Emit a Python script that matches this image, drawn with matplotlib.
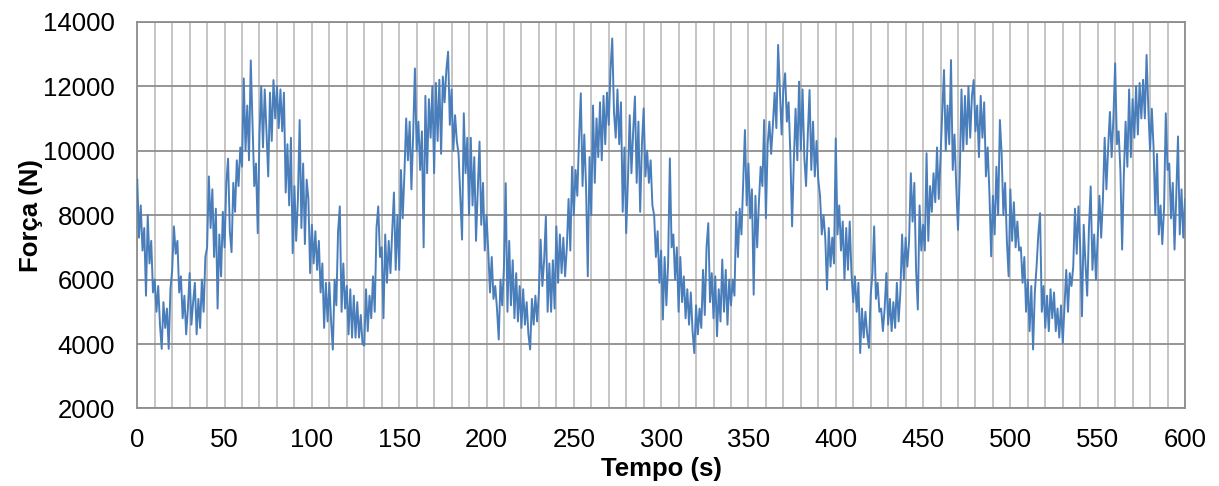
import matplotlib
matplotlib.use("Agg")
import matplotlib.pyplot as plt
import numpy as np
from matplotlib.ticker import MultipleLocator

# força (N), um valor por segundo (t = 0 ... 600 s)
forca = [
    9100, 7300, 8300, 6900, 7600, 5500, 8000, 6500, 7200, 5600,
    6000, 5000, 5800, 4600, 3850, 5300, 4500, 5100, 3850, 5700,
    6300, 7650, 6800, 7200, 5600, 6100, 4800, 5500, 4300, 5100,
    6200, 4600, 5300, 5900, 4300, 5400, 4500, 6000, 5000, 6700,
    7000, 9200, 7600, 8800, 6700, 8200, 5100, 7400, 6100, 8100,
    7000, 9000, 9750, 7500, 6850, 9000, 8100, 9700, 8900, 10100,
    9500, 12240, 10000, 11400, 9700, 12800, 10900, 8900, 9600, 7440,
    10500, 12000, 10100, 11900, 10600, 9200, 11800, 10300, 12190, 11000,
    12000, 10700, 11900, 10600, 11800, 8700, 10200, 8300, 10400, 6820,
    8900, 7200, 8500, 10950, 7600, 9600, 7100, 9100, 8500, 6200,
    7700, 6500, 7500, 6300, 7200, 5600, 6500, 4500, 5900, 4700,
    5900, 4700, 3830, 6000, 5200, 7500, 8270, 5000, 6500, 5100,
    5800, 4300, 5700, 4200, 5500, 4200, 5300, 4200, 4900, 4000,
    3950, 5700, 4400, 5500, 4800, 6100, 5000, 7600, 8270, 6700,
    7000, 4800, 7400, 5900, 7200, 6200, 7500, 8700, 6300, 8000,
    6300, 9400, 7900, 9300, 11000, 9700, 10900, 8800, 10500, 12550,
    10000, 10900, 9400, 10600, 7000, 11700, 9300, 11600, 10400, 12000,
    9300, 12100, 10300, 12200, 9900, 12300, 11500, 12500, 13070, 10800,
    11900, 10000, 11100, 10300, 9900, 8600, 7240, 11160, 9300, 10400,
    8000, 10400, 8300, 9800, 7200, 8800, 10280, 7700, 9000, 6900,
    8000, 6900, 5600, 6700, 5400, 5800, 5100, 4140, 6000, 5200,
    6400, 8990, 5000, 7200, 5200, 6600, 4800, 6200, 4700, 5800,
    4500, 5700, 4600, 5300, 4300, 3830, 5400, 4600, 5500, 4700,
    5600, 7240, 5800, 6600, 7960, 5000, 6500, 5000, 6600, 5100,
    7650, 5900, 7400, 6200, 7300, 6100, 7000, 8500, 6900, 9500,
    8000, 9400, 8600, 10400, 11780, 8900, 10500, 8900, 6100, 9800,
    8000, 11400, 9000, 11000, 9800, 11500, 9700, 11700, 10200, 11800,
    10800, 12500, 13480, 11200, 10400, 11900, 10200, 11500, 8100, 10100,
    7440, 9100, 11100, 9300, 10600, 11680, 9000, 10900, 8100, 10200,
    11310, 9200, 10000, 9000, 9700, 8300, 8000, 6700, 7500, 5900,
    6900, 4760, 6700, 5200, 6500, 9760, 7000, 7400, 6000, 7000,
    5000, 6700, 5300, 6100, 4800, 5700, 4600, 5600, 4400, 3720,
    5200, 4300, 5100, 4500, 6300, 4900, 7000, 7750, 5300, 6200,
    4800, 6100, 4240, 5700, 4700, 6620, 5000, 6300, 4600, 6000,
    5200, 6000, 5500, 8100, 6700, 8200, 7400, 9000, 10640, 8300,
    9600, 7900, 8800, 5530, 8600, 7000, 8400, 9500, 8900, 10950,
    7900, 10200, 10900, 9900, 10800, 11800, 10700, 13280, 11900, 10500,
    11900, 12400, 10900, 11500, 9900, 7650, 9700, 11300, 9700, 12140,
    10000, 11900, 9800, 8900, 10500, 11880, 9400, 10900, 9200, 10300,
    9100, 8600, 7400, 8000, 7300, 5690, 7600, 6400, 7300, 6500,
    10380, 7400, 8300, 6900, 7800, 6000, 7600, 6300, 7800, 6200,
    5300, 6100, 5000, 5900, 3720, 5100, 4200, 5000, 4300, 3880,
    5500, 6200, 7650, 5400, 5900, 5000, 5100, 4400, 5100, 6200,
    4600, 5400, 4400, 5300, 4500, 5900, 4700, 5600, 7400, 6000,
    7300, 6400, 7200, 9300, 7800, 9000, 6300, 5070, 8300, 6900,
    7700, 6900, 9920, 7200, 8900, 8100, 9300, 8400, 10100, 8500,
    9800, 11200, 12500, 10000, 11400, 10200, 12810, 9400, 10500, 8900,
    7540, 9200, 11900, 10000, 11700, 10200, 12000, 10400, 11700, 12190,
    10600, 11400, 9800, 11700, 10400, 11500, 9200, 10100, 8700, 6720,
    8600, 7400, 9500, 8000, 10950, 9900, 8000, 9000, 7200, 6100,
    8800, 7200, 8400, 7000, 7800, 6900, 7000, 5900, 6700, 5000,
    6000, 4400, 5800, 3830, 5600, 6400, 7400, 8060, 5000, 5800,
    4500, 5500, 4400, 5700, 4800, 5600, 4400, 5100, 4200, 5200,
    4030, 5200, 6300, 5000, 6200, 5800, 6400, 8200, 6800, 8270,
    7000, 4860, 7700, 6500, 5500, 7600, 8890, 6300, 7400, 6000,
    7300, 8600, 7300, 8500, 10400, 8800, 10100, 11200, 9800, 11000,
    12710, 10200, 10600, 9400, 6930, 9300, 10900, 9500, 11900, 9800,
    11600, 10400, 12000, 10500, 12100, 11000, 12200, 11000, 12970, 11300,
    10000, 11300, 10100, 8000, 9900, 7400, 8300, 7100, 8200, 11160,
    9400, 9600, 7900, 9000, 6930, 8600, 10440, 7400, 8800, 7300,
    8500,
]
tempo = np.arange(len(forca))

y_ticks = [2000, 4000, 6000, 8000, 10000, 12000, 14000]
x_ticks = [0, 50, 100, 150, 200, 250, 300, 350, 400, 450, 500, 550, 600]

plt.rcParams["font.family"] = ["Liberation Sans", "DejaVu Sans"]

fig = plt.figure(figsize=(12.19, 4.86), dpi=100)
ax = fig.add_axes([0.1126, 0.1595, 0.8595, 0.7958])

ax.plot(tempo, forca, color="#4a7ebb", linewidth=1.4, zorder=3)

ax.set_xlim(0, 600)
ax.set_ylim(2000, 14000)
ax.set_xticks(x_ticks)
ax.set_yticks(y_ticks)
ax.xaxis.set_minor_locator(MultipleLocator(10))

ax.grid(True, axis="x", which="both", color="#c0c0c0", linewidth=1.3)
ax.grid(True, axis="y", which="major", color="#8e8e8e", linewidth=1.3)
ax.set_axisbelow(True)

for side in ["left", "bottom", "top", "right"]:
    ax.spines[side].set_color("#8e8e8e")
    ax.spines[side].set_linewidth(1.3)

ax.tick_params(axis="both", which="both", length=0, labelsize=18.5, colors="#000000")
ax.tick_params(axis="x", pad=14)
ax.tick_params(axis="y", pad=16)

ax.set_xlabel("Tempo (s)", fontsize=18.5, fontweight="bold", labelpad=4)
ax.set_ylabel("Força (N)", fontsize=18.5, fontweight="bold", labelpad=0)

fig.savefig("out.png", dpi=100)
